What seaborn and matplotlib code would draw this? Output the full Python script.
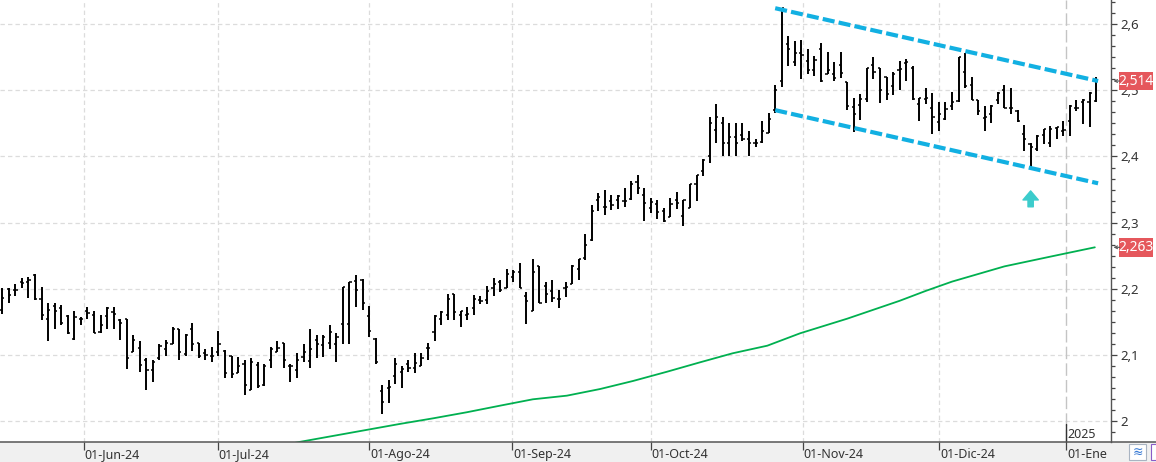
import numpy as np
import pandas as pd
import matplotlib
matplotlib.use("Agg")
import matplotlib.pyplot as plt
import matplotlib.transforms as mtransforms
from matplotlib.ticker import MultipleLocator
from matplotlib.patches import Rectangle
from matplotlib.lines import Line2D
import seaborn as sns

# ---------------- data ----------------
opens = [2.168, 2.200, 2.198, 2.211, 2.211, 2.221, 2.185, 2.154, 2.174, 2.171,
         2.159, 2.124, 2.154, 2.166, 2.161, 2.135, 2.159, 2.165, 2.153, 2.154,
         2.105, 2.110, 2.093, 2.078, 2.095, 2.109, 2.117, 2.140, 2.101, 2.139,
         2.118, 2.103, 2.098, 2.105, 2.106, 2.099, 2.073, 2.087, 2.047, 2.085,
         2.055, 2.093, 2.104, 2.118, 2.084, 2.078, 2.097, 2.091, 2.123, 2.115,
         2.118, 2.116, 2.147, 2.147, 2.212, 2.213, 2.159, 2.124, 2.046, 2.051,
         2.068, 2.074, 2.086, 2.081, 2.084, 2.110, 2.135, 2.154, 2.161, 2.192,
         2.160, 2.161, 2.171, 2.183, 2.183, 2.201, 2.211, 2.201, 2.218, 2.225,
         2.189, 2.167, 2.234, 2.204, 2.197, 2.184, 2.202, 2.208, 2.230, 2.246,
         2.274, 2.334, 2.323, 2.333, 2.335, 2.333, 2.336, 2.362, 2.342, 2.322,
         2.328, 2.318, 2.308, 2.335, 2.310, 2.322, 2.358, 2.378, 2.401, 2.440,
         2.450, 2.420, 2.430, 2.432, 2.426, 2.421, 2.422, 2.435, 2.470, 2.514,
         2.570, 2.543, 2.557, 2.544, 2.530, 2.562, 2.525, 2.525, 2.538, 2.513,
         2.475, 2.478, 2.487, 2.538, 2.533, 2.520, 2.506, 2.530, 2.541, 2.533,
         2.480, 2.487, 2.474, 2.452, 2.456, 2.476, 2.484, 2.527, 2.508, 2.486,
         2.458, 2.464, 2.486, 2.500, 2.474, 2.469, 2.434, 2.419, 2.411, 2.432,
         2.420, 2.443, 2.438, 2.454, 2.474, 2.483, 2.483, 2.484]
highs = [2.201, 2.201, 2.208, 2.216, 2.218, 2.223, 2.203, 2.179, 2.178, 2.175,
         2.161, 2.167, 2.158, 2.172, 2.166, 2.160, 2.172, 2.172, 2.155, 2.155,
         2.130, 2.122, 2.095, 2.093, 2.116, 2.123, 2.142, 2.140, 2.132, 2.149,
         2.118, 2.109, 2.112, 2.137, 2.107, 2.099, 2.097, 2.092, 2.095, 2.089,
         2.087, 2.112, 2.122, 2.118, 2.087, 2.103, 2.117, 2.140, 2.130, 2.130,
         2.146, 2.134, 2.203, 2.211, 2.221, 2.215, 2.174, 2.126, 2.055, 2.063,
         2.096, 2.084, 2.092, 2.103, 2.103, 2.118, 2.160, 2.167, 2.192, 2.192,
         2.167, 2.172, 2.191, 2.189, 2.205, 2.216, 2.213, 2.230, 2.229, 2.239,
         2.196, 2.245, 2.234, 2.210, 2.213, 2.198, 2.210, 2.236, 2.245, 2.283,
         2.327, 2.345, 2.350, 2.342, 2.342, 2.352, 2.363, 2.372, 2.353, 2.338,
         2.335, 2.322, 2.338, 2.346, 2.335, 2.358, 2.372, 2.396, 2.460, 2.480,
         2.460, 2.450, 2.450, 2.451, 2.439, 2.426, 2.454, 2.466, 2.508, 2.625,
         2.582, 2.575, 2.576, 2.562, 2.552, 2.571, 2.558, 2.543, 2.558, 2.513,
         2.489, 2.495, 2.533, 2.551, 2.533, 2.520, 2.527, 2.544, 2.547, 2.537,
         2.489, 2.503, 2.496, 2.483, 2.483, 2.498, 2.551, 2.557, 2.520, 2.486,
         2.476, 2.478, 2.498, 2.508, 2.503, 2.470, 2.448, 2.420, 2.432, 2.441,
         2.446, 2.445, 2.454, 2.478, 2.486, 2.487, 2.498, 2.520]
lows = [2.162, 2.179, 2.189, 2.201, 2.186, 2.183, 2.153, 2.121, 2.140, 2.146,
        2.132, 2.123, 2.146, 2.154, 2.133, 2.134, 2.140, 2.140, 2.123, 2.079,
        2.104, 2.074, 2.047, 2.059, 2.093, 2.098, 2.116, 2.092, 2.099, 2.106,
        2.095, 2.092, 2.090, 2.099, 2.065, 2.065, 2.073, 2.039, 2.047, 2.050,
        2.054, 2.080, 2.104, 2.080, 2.060, 2.066, 2.090, 2.080, 2.095, 2.097,
        2.109, 2.089, 2.116, 2.116, 2.172, 2.168, 2.128, 2.086, 2.011, 2.028,
        2.056, 2.050, 2.074, 2.073, 2.083, 2.093, 2.122, 2.146, 2.153, 2.153,
        2.142, 2.153, 2.161, 2.177, 2.177, 2.190, 2.196, 2.201, 2.210, 2.201,
        2.147, 2.166, 2.178, 2.178, 2.180, 2.171, 2.188, 2.207, 2.213, 2.244,
        2.273, 2.318, 2.312, 2.319, 2.320, 2.323, 2.335, 2.344, 2.303, 2.314,
        2.306, 2.301, 2.308, 2.320, 2.295, 2.322, 2.333, 2.370, 2.390, 2.420,
        2.400, 2.400, 2.400, 2.424, 2.401, 2.415, 2.421, 2.435, 2.465, 2.505,
        2.536, 2.536, 2.517, 2.524, 2.521, 2.512, 2.524, 2.514, 2.518, 2.470,
        2.437, 2.455, 2.483, 2.517, 2.481, 2.485, 2.493, 2.500, 2.514, 2.486,
        2.453, 2.479, 2.434, 2.439, 2.455, 2.470, 2.483, 2.503, 2.486, 2.462,
        2.439, 2.450, 2.480, 2.474, 2.464, 2.452, 2.409, 2.379, 2.409, 2.419,
        2.414, 2.426, 2.431, 2.431, 2.468, 2.449, 2.445, 2.483]
closes = [2.186, 2.191, 2.199, 2.209, 2.213, 2.184, 2.160, 2.168, 2.166, 2.148,
          2.134, 2.158, 2.155, 2.163, 2.134, 2.146, 2.171, 2.162, 2.148, 2.095,
          2.123, 2.085, 2.078, 2.089, 2.114, 2.119, 2.140, 2.105, 2.131, 2.116,
          2.098, 2.100, 2.098, 2.117, 2.073, 2.072, 2.084, 2.055, 2.090, 2.054,
          2.084, 2.109, 2.111, 2.093, 2.083, 2.093, 2.105, 2.109, 2.117, 2.127,
          2.135, 2.127, 2.203, 2.210, 2.199, 2.179, 2.137, 2.089, 2.029, 2.052,
          2.086, 2.079, 2.080, 2.088, 2.096, 2.110, 2.159, 2.165, 2.184, 2.165,
          2.166, 2.162, 2.184, 2.182, 2.197, 2.207, 2.198, 2.222, 2.225, 2.202,
          2.181, 2.226, 2.178, 2.192, 2.186, 2.184, 2.203, 2.235, 2.245, 2.267,
          2.318, 2.339, 2.323, 2.326, 2.341, 2.333, 2.358, 2.353, 2.329, 2.332,
          2.316, 2.302, 2.328, 2.329, 2.335, 2.358, 2.372, 2.395, 2.450, 2.460,
          2.420, 2.430, 2.420, 2.426, 2.420, 2.421, 2.438, 2.457, 2.500, 2.624,
          2.563, 2.557, 2.553, 2.531, 2.546, 2.514, 2.531, 2.518, 2.526, 2.476,
          2.464, 2.487, 2.533, 2.528, 2.500, 2.494, 2.525, 2.532, 2.543, 2.487,
          2.489, 2.488, 2.459, 2.464, 2.471, 2.483, 2.551, 2.506, 2.486, 2.469,
          2.459, 2.476, 2.496, 2.474, 2.474, 2.453, 2.427, 2.414, 2.431, 2.441,
          2.441, 2.444, 2.440, 2.477, 2.474, 2.485, 2.496, 2.514]

# green moving-average line, read at sample bars
ma_idx = [44.0, 45.5, 60.7, 65.8, 70.9, 76.0, 81.0, 86.2, 91.3, 96.3, 101.5,
          106.5, 111.5, 116.8, 121.8, 129.0, 137.0, 141.0, 145.0, 153.0,
          160.0, 166.8]
ma_val = [1.966, 1.969, 1.996, 2.0045, 2.0136, 2.0236, 2.0332, 2.0387, 2.0488,
          2.0609, 2.0749, 2.089, 2.1027, 2.1142, 2.1329, 2.155, 2.182, 2.197,
          2.211, 2.234, 2.2487, 2.2628]

# descending channel (cyan dashed lines)
chan_x = [118.0, 167.3]
chan_upper = [2.624, 2.514]
chan_lower = [2.470, 2.3595]

# month ticks
month_pos = [12.4, 32.9, 56.0, 77.8, 99.0, 122.2, 143.0, 162.4]
month_labels = ["01-Jun-24", "01-Jul-24", "01-Ago-24", "01-Sep-24",
                "01-Oct-24", "01-Nov-24", "01-Dic-24", "01-Ene"]
year_label = "2025"

y_ticks = [2.0, 2.1, 2.2, 2.3, 2.4, 2.5, 2.6]
y_labels = ["2", "2,1", "2,2", "2,3", "2,4", "2,5", "2,6"]

signal_x = 157.0
signal_y = [2.324, 2.348]

# ---------------- figure ----------------
sns.set_theme(style="white")
plt.rcParams["font.family"] = ["Noto Sans", "DejaVu Sans"]

W, H = 1156, 462
fig = plt.figure(figsize=(W / 100, H / 100), dpi=100, facecolor="white")
fig.patches.append(Rectangle((0, 0), 1, 20 / H, transform=fig.transFigure,
                             facecolor="#f0f0f0", edgecolor="none", zorder=-5))
ax = fig.add_axes([0, 20 / H, 1111 / W, 442 / H])
ax.set_facecolor("white")
ax.set_zorder(1)

n = len(closes)
idx = np.arange(n)
df = pd.DataFrame({"i": idx, "open": opens, "high": highs,
                   "low": lows, "close": closes})

# grid
for yv in y_ticks:
    ax.axhline(yv, color="#dcdcdc", lw=0.9, ls=(0, (3.5, 2.5)), zorder=0)
for xv in month_pos[:-1]:
    ax.axvline(xv, color="#dcdcdc", lw=0.9, ls=(0, (3.5, 2.5)), zorder=0)
ax.axvline(month_pos[-1], color="#c4c4c4", lw=1.0, ls=(0, (9, 3)), zorder=0)

# OHLC bars
tick_w = 0.33
ax.vlines(df["i"], df["low"], df["high"], color="black", lw=1.4, zorder=3)
ax.hlines(df["open"], df["i"] - tick_w, df["i"], color="black", lw=1.1, zorder=3)
ax.hlines(df["close"], df["i"], df["i"] + tick_w, color="black", lw=1.1, zorder=3)

# moving average
ma_df = pd.DataFrame({"i": ma_idx, "v": ma_val})
sns.lineplot(data=ma_df, x="i", y="v", ax=ax, color="#00b050", lw=1.3,
             sort=False, zorder=2)

# channel
for ys in (chan_upper, chan_lower):
    ax.plot(chan_x, ys, color="#12b0e2", lw=3.0, dashes=(2.9, 1.0),
            dash_capstyle="butt", zorder=4)

# signal arrow
ax.annotate("", xy=(signal_x, signal_y[1]), xytext=(signal_x, signal_y[0]),
            arrowprops=dict(arrowstyle="simple,head_length=0.65,head_width=1.1,tail_width=0.38",
                            color="#3ccccc", mutation_scale=10, shrinkA=0, shrinkB=0),
            zorder=5)

# axes limits / ticks
ax.set_xlim(-0.35, 169.27)
ax.set_ylim(1.9687, 2.6364)
ax.set_xlabel("")
ax.set_ylabel("")

ax.yaxis.tick_right()
ax.set_yticks(y_ticks)
ax.set_yticklabels(y_labels)
ax.yaxis.set_minor_locator(MultipleLocator(0.1 / 6))
ax.tick_params(axis="y", which="major", direction="out", length=4, width=0.9,
               color="#444444", labelsize=9.5, labelcolor="#333333", pad=3,
               right=True, left=False)
ax.tick_params(axis="y", which="minor", direction="out", length=2.6, width=0.9,
               color="#444444", right=True, left=False)

ax.set_xticks(month_pos)
ax.set_xticklabels(month_labels)
ax.tick_params(axis="x", which="major", direction="out", length=6, width=0.9,
               color="#444444", labelsize=9, labelcolor="#333333", pad=-1.5,
               bottom=True)
offset = mtransforms.ScaledTranslation(1 / 100, 0, fig.dpi_scale_trans)
for lab in ax.get_xticklabels():
    lab.set_horizontalalignment("left")
    lab.set_transform(lab.get_transform() + offset)

for s in ("left", "top", "bottom"):
    ax.spines[s].set_visible(False)
ax.spines["right"].set_color("#555555")
ax.spines["right"].set_linewidth(1.0)

# full-width bottom border line
fig.lines.append(Line2D([0, 1], [20 / H, 20 / H], transform=fig.transFigure,
                        color="#555555", lw=1.1, zorder=6))

# year marker
bx = mtransforms.blended_transform_factory(ax.transData, ax.transAxes)
ax.plot([month_pos[-1], month_pos[-1]], [0, 0.04], transform=bx,
        color="#333333", lw=1.0, clip_on=False, zorder=6)
ax.text(month_pos[-1] + 0.25, 0.018, year_label, transform=bx, fontsize=9,
        color="#333333", ha="left", va="center")

# price labels on the right axis
by = mtransforms.blended_transform_factory(ax.transAxes, ax.transData)
px = 1 / 1111
ydat_per_px = (2.6364 - 1.9687) / 442
for val in (closes[-1], ma_val[-1]):
    h = 18.7 * ydat_per_px
    ax.add_patch(Rectangle((1 + 8.3 * px, val - h / 2), 33.4 * px, h,
                           transform=by, facecolor="#e5575c", edgecolor="none",
                           clip_on=False, zorder=7))
    ax.text(1 + 25 * px, val, f"{val:.3f}".replace(".", ","), transform=by,
            fontsize=10, color="white", ha="center", va="center",
            zorder=8, clip_on=False)
    ax.annotate("", xy=(1 + 2.5 * px, val), xycoords=by, xytext=(4.5, 0),
                textcoords="offset points",
                arrowprops=dict(arrowstyle="->", color="#555555", lw=0.8,
                                shrinkA=0, shrinkB=0, mutation_scale=5),
                annotation_clip=False, zorder=8)

# small toolbar icons bottom-right
fig.patches.append(Rectangle((1129 / W, 2 / H), 17 / W, 16 / H,
                             transform=fig.transFigure, facecolor="white",
                             edgecolor="#a9b4c2", lw=0.8, zorder=6))
fig.text(1137.5 / W, 10 / H, "≋", fontsize=9, color="#3a7bd5",
         ha="center", va="center", family=["DejaVu Sans"], zorder=8)
fig.patches.append(Rectangle((1151 / W, 2 / H), 10 / W, 16 / H,
                             transform=fig.transFigure, facecolor="white",
                             edgecolor="#8a5cc8", lw=0.8, zorder=6))

fig.savefig("out.png", dpi=100, facecolor="white")
